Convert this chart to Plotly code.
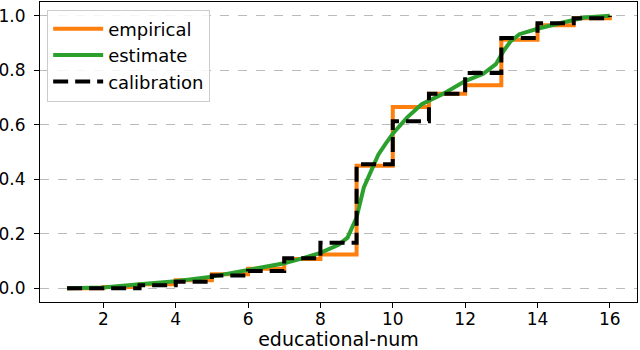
import plotly.graph_objects as go

# step positions (educational-num levels)
levels = list(range(1, 17))

# empirical CDF value held from each level to the next
empirical = [0.0, 0.005, 0.015, 0.03, 0.052, 0.072, 0.108, 0.124, 0.45,
             0.665, 0.714, 0.745, 0.912, 0.965, 0.99, 1.0]

# calibration CDF
calibration = [0.0, 0.0, 0.011, 0.024, 0.047, 0.064, 0.11, 0.167, 0.455,
               0.613, 0.714, 0.79, 0.918, 0.972, 0.99, 1.0]

# smooth estimate
est_x = [1, 2, 3, 4, 5, 6, 7, 7.5, 8, 8.5, 8.75, 9, 9.2, 9.4, 9.6, 9.8,
         10, 10.4, 10.8, 11.4, 12, 12.5, 12.85, 13.05, 13.25, 13.5, 14,
         14.7, 15.3, 16]
est_y = [0.0, 0.003, 0.015, 0.026, 0.043, 0.066, 0.092, 0.11, 0.13, 0.16,
         0.186, 0.26, 0.37, 0.43, 0.49, 0.53, 0.567, 0.627, 0.675, 0.714,
         0.76, 0.787, 0.822, 0.868, 0.905, 0.932, 0.952, 0.975, 0.993, 1.0]

fig = go.Figure()

fig.add_trace(go.Scatter(
    x=levels, y=empirical, name="empirical", mode="lines", legendgroup="a",
    line=dict(color="#ff7f0e", width=4, shape="hv")))

fig.add_trace(go.Scatter(
    x=est_x, y=est_y, name="estimate", mode="lines", legendgroup="b",
    line=dict(color="#2ca02c", width=4)))

fig.add_trace(go.Scatter(
    x=levels, y=calibration, name="calibration", mode="lines", legendgroup="c",
    line=dict(color="black", width=4, shape="hv", dash="15px,7px")))

axis_common = dict(
    showline=True, linecolor="black", linewidth=1, mirror=True,
    ticks="outside", ticklen=5, tickcolor="black", zeroline=False,
    automargin=False, tickfont=dict(size=17))

fig.update_xaxes(
    range=[0.25, 16.75], tickvals=list(range(2, 17, 2)), showgrid=False,
    ticklabelstandoff=-3,
    title=dict(text="educational-num", standoff=7, font=dict(size=19)),
    **axis_common)
fig.update_yaxes(
    range=[-0.05, 1.05], tickvals=[0, 0.2, 0.4, 0.6, 0.8, 1.0],
    tickformat=".1f", showgrid=True, gridcolor="#bbbbbb", griddash="dash",
    gridwidth=1, ticklabelstandoff=5, **axis_common)

fig.update_layout(
    width=640, height=350,
    margin=dict(l=40, r=3, t=2, b=48),
    plot_bgcolor="white", paper_bgcolor="white",
    font=dict(family="DejaVu Sans", size=17, color="black"),
    legend=dict(
        x=0.012, y=0.975, xanchor="left", yanchor="top",
        bgcolor="rgba(255,255,255,0.85)", bordercolor="#cccccc",
        borderwidth=1, font=dict(size=18), itemwidth=50,
        tracegroupgap=0),
)

# the page body has a default margin; drop it so the figure sits at 0,0
fig.write_html("out.html", config={"displayModeBar": False},
               post_script="document.body.style.margin='0';")
